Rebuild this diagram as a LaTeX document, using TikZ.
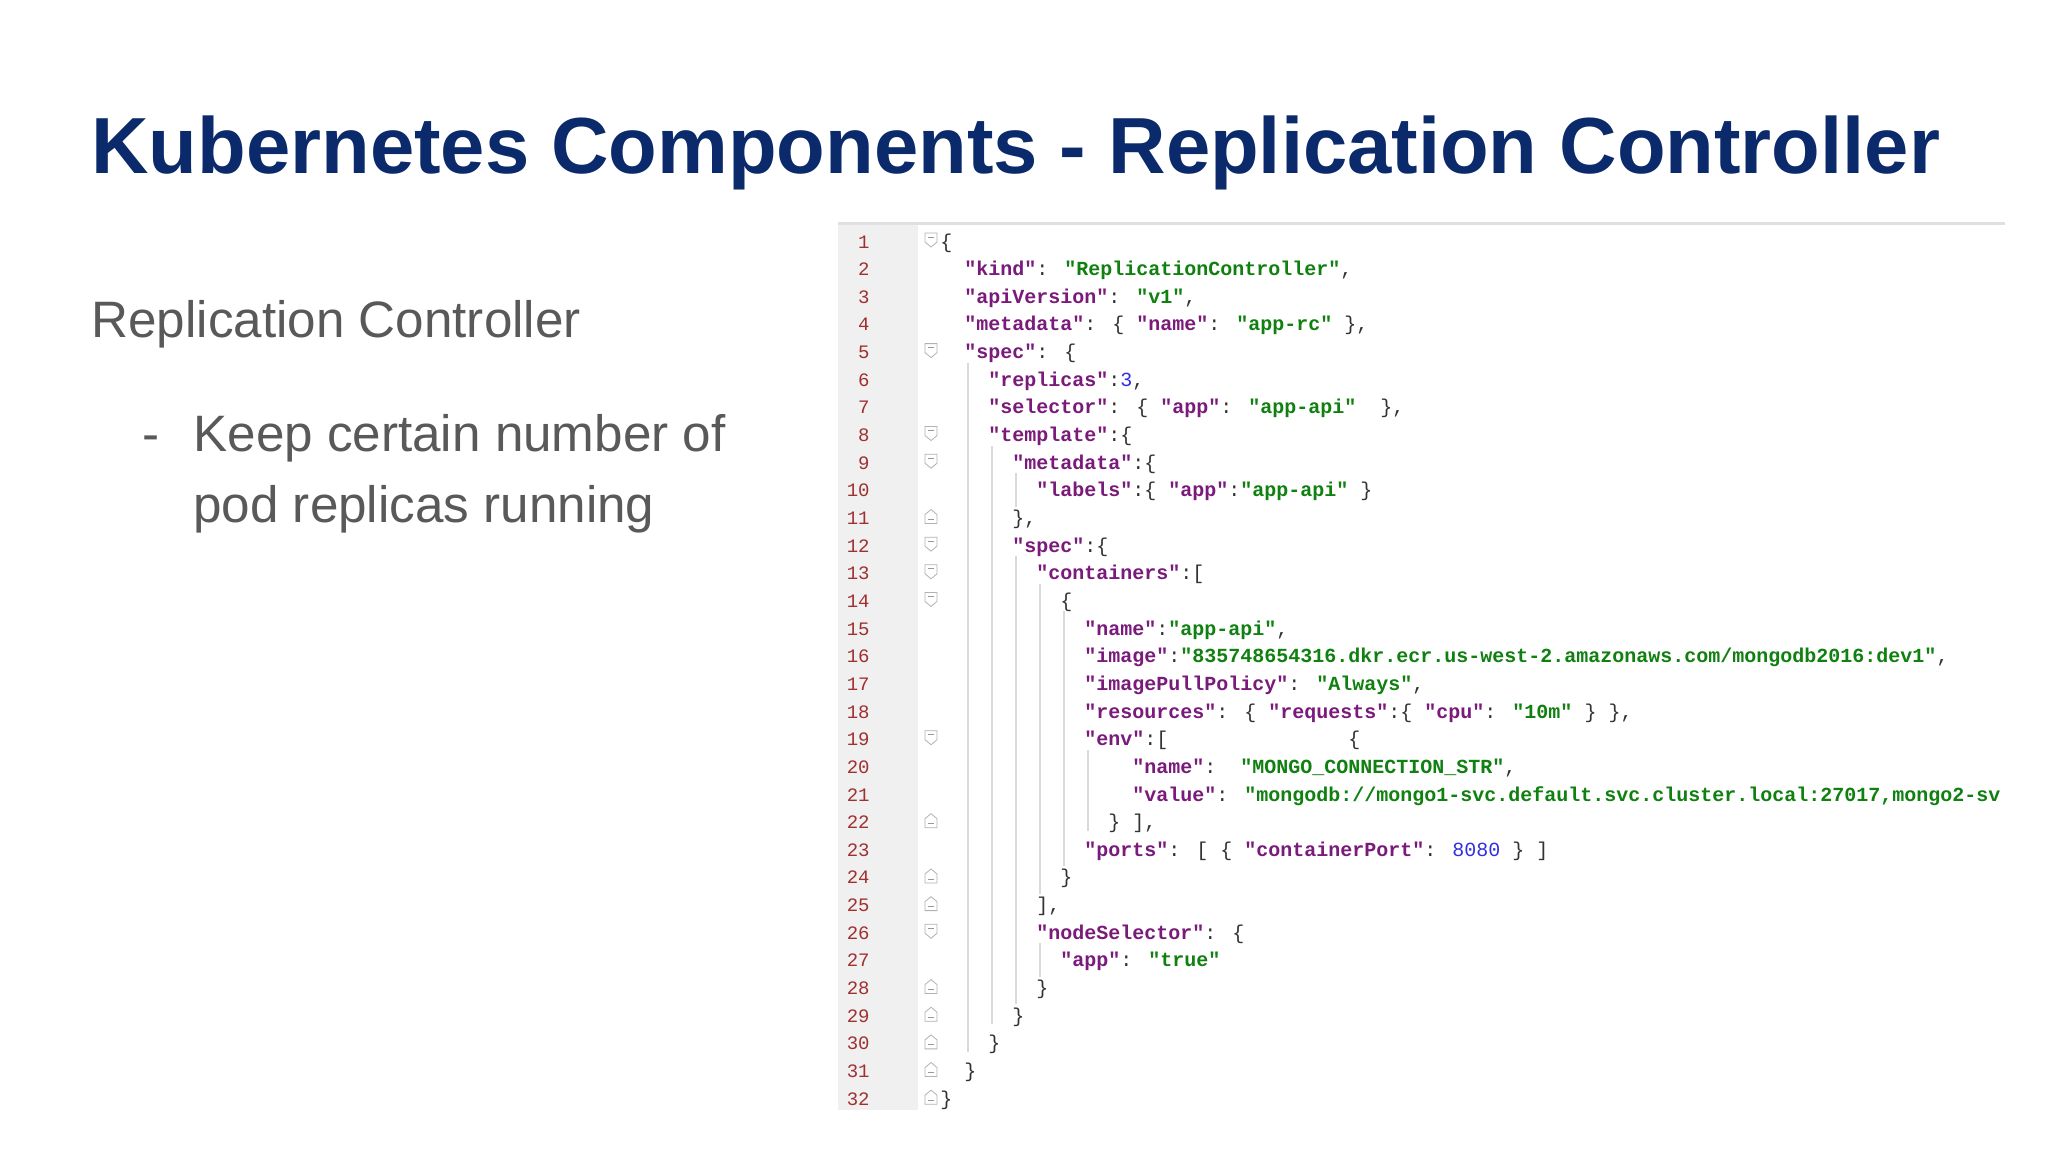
\documentclass[tikz,border=0pt]{standalone}
\usepackage{fontspec}
\setmainfont{Liberation Sans}
\newfontfamily\codefont{Liberation Mono}
\definecolor{ttl}{HTML}{0B2A6B}
\definecolor{txt}{HTML}{595959}
\definecolor{keyc}{HTML}{7A1A7A}
\definecolor{strc}{HTML}{108010}
\definecolor{numc}{HTML}{3030E0}
\definecolor{lnc}{HTML}{A03030}
\definecolor{gut}{HTML}{F0F0F0}
\newcommand{\Ky}[1]{\textcolor{keyc}{\bfseries #1}}
\newcommand{\Sv}[1]{\textcolor{strc}{\bfseries #1}}
\newcommand{\Nv}[1]{\textcolor{numc}{#1}}
\tikzset{
  code/.style={anchor=base west,inner sep=0pt,font=\codefont\fontsize{10}{12}\selectfont,text=black!80},
  lnum/.style={anchor=base east,inner sep=0pt,font=\codefont\fontsize{9.5}{12}\selectfont,text=lnc},
  fold/.style={draw=black!30,fill=white,line width=0.4pt},
  guide/.style={draw=black!15,line width=0.6pt},
  body/.style={anchor=base west,inner sep=0pt,text=txt,font=\fontsize{25.6}{31}\selectfont}
}
\begin{document}
\begin{tikzpicture}[x=0.5pt,y=-0.5pt]
\useasboundingbox (0,0) rectangle (2048,1152);
\fill[white] (0,0) rectangle (2048,1152);
\node[anchor=base west,inner sep=0pt,text=ttl,font=\bfseries\fontsize{39.8}{48}\selectfont] (title) at (91,173) {Kubernetes Components - Replication Controller};
\node[body] (sub) at (91,337) {Replication Controller};
\node[body] (dash) at (142,451) {-};
\node[body] (b1) at (193,451) {Keep certain number of};
\node[body] (b2) at (193,522) {pod replicas running};
% code panel
\fill[gut] (838,223) rectangle (918,1110);
\draw[black!12,line width=1.5pt] (838,223) -- (2005,223);
\foreach \n in {1,...,32} \node[lnum] (ln\n) at (870,{248+(\n-1)*27.65}) {\n};
% fold markers
\foreach \n in {1,5,8,9,12,13,14,19,26} {
  \draw[fold] (925,{240+(\n-1)*27.65-7}) -- ++(12,0) -- ++(0,9) -- ++(-6,5) -- ++(-6,-5) -- cycle;
  \draw[black!40,line width=0.4pt] (928,{240+(\n-1)*27.65-3}) -- ++(6,0);}
\foreach \n in {11,22,24,25,28,29,30,31,32} {
  \draw[fold] (925,{240+(\n-1)*27.65+7}) -- ++(12,0) -- ++(0,-9) -- ++(-6,-5) -- ++(-6,5) -- cycle;
  \draw[black!40,line width=0.4pt] (928,{240+(\n-1)*27.65+3}) -- ++(6,0);}
% indent guides
\draw[guide] (968,{240+4*27.65+12}) -- (968,{240+29*27.65+10});
\draw[guide] (992,{240+7*27.65+12}) -- (992,{240+28*27.65+10});
\draw[guide] (1016,{240+8*27.65+12}) -- (1016,{240+10*27.65-10});
\draw[guide] (1016,{240+11*27.65+12}) -- (1016,{240+28*27.65-10});
\draw[guide] (1040,{240+12*27.65+12}) -- (1040,{240+24*27.65-10});
\draw[guide] (1064,{240+13*27.65+12}) -- (1064,{240+23*27.65-10});
\draw[guide] (1088,{240+18*27.65+12}) -- (1088,{240+21*27.65+10});
\draw[guide] (1040,{240+25*27.65+12}) -- (1040,{240+27*27.65-10});
\begin{scope}
\clip (918,223) rectangle (2005,1115);
\node[code] (c1) at (940+0*12,{248+0*27.65}) {\{};
\node[code] (c2) at (940+2*12,{248+1*27.65}) {\Ky{"kind"}: \Sv{"ReplicationController"},};
\node[code] (c3) at (940+2*12,{248+2*27.65}) {\Ky{"apiVersion"}: \Sv{"v1"},};
\node[code] (c4) at (940+2*12,{248+3*27.65}) {\Ky{"metadata"}: \{ \Ky{"name"}: \Sv{"app-rc"} \},};
\node[code] (c5) at (940+2*12,{248+4*27.65}) {\Ky{"spec"}: \{};
\node[code] (c6) at (940+4*12,{248+5*27.65}) {\Ky{"replicas"}:\Nv{3},};
\node[code] (c7) at (940+4*12,{248+6*27.65}) {\Ky{"selector"}: \{ \Ky{"app"}: \Sv{"app-api"}~~\},};
\node[code] (c8) at (940+4*12,{248+7*27.65}) {\Ky{"template"}:\{};
\node[code] (c9) at (940+6*12,{248+8*27.65}) {\Ky{"metadata"}:\{};
\node[code] (c10) at (940+8*12,{248+9*27.65}) {\Ky{"labels"}:\{ \Ky{"app"}:\Sv{"app-api"} \}};
\node[code] (c11) at (940+6*12,{248+10*27.65}) {\},};
\node[code] (c12) at (940+6*12,{248+11*27.65}) {\Ky{"spec"}:\{};
\node[code] (c13) at (940+8*12,{248+12*27.65}) {\Ky{"containers"}:[};
\node[code] (c14) at (940+10*12,{248+13*27.65}) {\{};
\node[code] (c15) at (940+12*12,{248+14*27.65}) {\Ky{"name"}:\Sv{"app-api"},};
\node[code] (c16) at (940+12*12,{248+15*27.65}) {\Ky{"image"}:\Sv{"835748654316.dkr.ecr.us-west-2.amazonaws.com/mongodb2016:dev1"},};
\node[code] (c17) at (940+12*12,{248+16*27.65}) {\Ky{"imagePullPolicy"}: \Sv{"Always"},};
\node[code] (c18) at (940+12*12,{248+17*27.65}) {\Ky{"resources"}: \{ \Ky{"requests"}:\{ \Ky{"cpu"}: \Sv{"10m"} \} \},};
\node[code] (c19) at (940+12*12,{248+18*27.65}) {\Ky{"env"}:[~~~~~~~~~~~~~~~\{};
\node[code] (c20) at (940+16*12,{248+19*27.65}) {\Ky{"name"}:~~\Sv{"MONGO\_CONNECTION\_STR"},};
\node[code] (c21) at (940+16*12,{248+20*27.65}) {\Ky{"value"}: \Sv{"mongodb://mongo1-svc.default.svc.cluster.local:27017,mongo2-sv}};
\node[code] (c22) at (940+14*12,{248+21*27.65}) {\} ],};
\node[code] (c23) at (940+12*12,{248+22*27.65}) {\Ky{"ports"}: [ \{ \Ky{"containerPort"}: \Nv{8080} \} ]};
\node[code] (c24) at (940+10*12,{248+23*27.65}) {\}};
\node[code] (c25) at (940+8*12,{248+24*27.65}) {],};
\node[code] (c26) at (940+8*12,{248+25*27.65}) {\Ky{"nodeSelector"}: \{};
\node[code] (c27) at (940+10*12,{248+26*27.65}) {\Ky{"app"}: \Sv{"true"}};
\node[code] (c28) at (940+8*12,{248+27*27.65}) {\}};
\node[code] (c29) at (940+6*12,{248+28*27.65}) {\}};
\node[code] (c30) at (940+4*12,{248+29*27.65}) {\}};
\node[code] (c31) at (940+2*12,{248+30*27.65}) {\}};
\node[code] (c32) at (940+0*12,{248+31*27.65}) {\}};
\end{scope}
\end{tikzpicture}
\end{document}
